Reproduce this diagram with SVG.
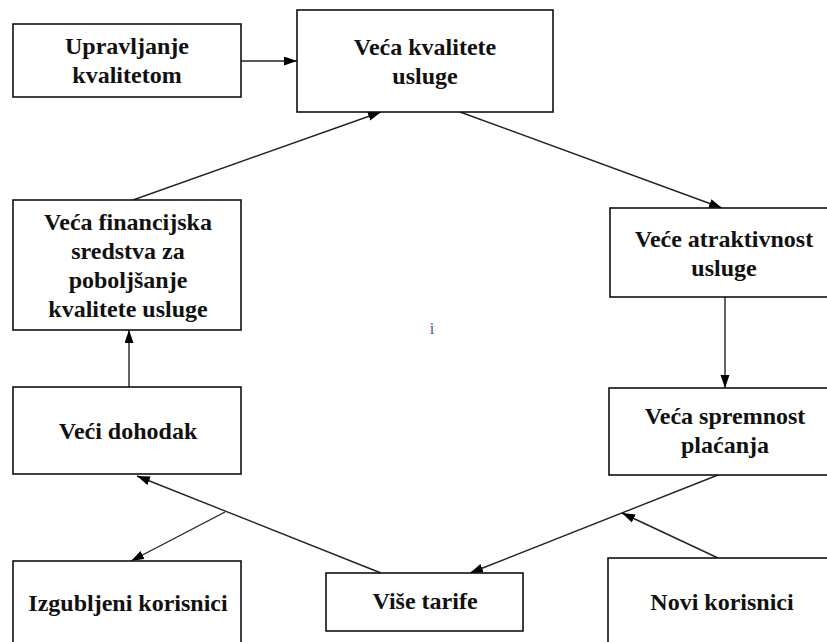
<svg xmlns="http://www.w3.org/2000/svg" width="827" height="642" viewBox="0 0 827 642">
<style>
.box{fill:#fff;stroke:#111;stroke-width:1.6}
.t{font-family:"Liberation Serif","Times New Roman",serif;font-weight:bold;font-size:24px;fill:#111;text-anchor:middle}
.c{fill:none;stroke:#222;stroke-width:1.4;marker-end:url(#ah)}
</style>
<defs>
<marker id="ah" markerUnits="userSpaceOnUse" markerWidth="14" markerHeight="10" refX="13" refY="4.5" orient="auto">
<path d="M0,0 L13,4.5 L0,9 z" fill="#000"/>
</marker>
</defs>
<rect width="827" height="642" fill="#fff"/>
<g id="connectors">
<line class="c" x1="241" y1="61" x2="297" y2="61"/>
<line class="c" x1="133" y1="200" x2="381" y2="112"/>
<line class="c" x1="460" y1="112" x2="722" y2="208"/>
<line class="c" x1="725" y1="297" x2="725" y2="388"/>
<line class="c" x1="718" y1="475" x2="470" y2="573"/>
<line class="c" x1="718" y1="558" x2="622" y2="513"/>
<line class="c" x1="381" y1="573" x2="137" y2="476"/>
<line class="c" x1="225" y1="512" x2="131" y2="561"/>
<line class="c" x1="129" y1="387" x2="129" y2="330"/>
</g>
<g id="n-upravljanje">
<rect class="box" x="13" y="24" width="228" height="73"/>
<text class="t" x="127" y="54">Upravljanje</text>
<text class="t" x="127" y="83">kvalitetom</text>
</g>
<g id="n-veca-kvalitete">
<rect class="box" x="297" y="10" width="256" height="102"/>
<text class="t" x="425" y="55">Veća kvalitete</text>
<text class="t" x="425" y="84">usluge</text>
</g>
<g id="n-atraktivnost">
<rect class="box" x="610" y="208" width="230" height="89"/>
<text class="t" x="724" y="247">Veće atraktivnost</text>
<text class="t" x="724" y="276">usluge</text>
</g>
<g id="n-spremnost">
<rect class="box" x="609" y="388" width="231" height="87"/>
<text class="t" x="725" y="424">Veća spremnost</text>
<text class="t" x="725" y="453">plaćanja</text>
</g>
<g id="n-financijska">
<rect class="box" x="13" y="200" width="228" height="130"/>
<text class="t" x="128" y="230">Veća financijska</text>
<text class="t" x="128" y="259">sredstva za</text>
<text class="t" x="128" y="288">poboljšanje</text>
<text class="t" x="128" y="317">kvalitete usluge</text>
</g>
<g id="n-dohodak">
<rect class="box" x="13" y="387" width="228" height="87"/>
<text class="t" x="128" y="439">Veći dohodak</text>
</g>
<g id="n-izgubljeni">
<rect class="box" x="13" y="561" width="228" height="90"/>
<text class="t" x="128" y="611">Izgubljeni korisnici</text>
</g>
<g id="n-tarife">
<rect class="box" x="326" y="573" width="197" height="58"/>
<text class="t" x="425" y="609">Više tarife</text>
</g>
<g id="n-novi">
<rect class="box" x="608" y="558" width="232" height="93"/>
<text class="t" x="722" y="610">Novi korisnici</text>
</g>
<text x="432" y="334" font-family="Liberation Serif, serif" font-size="16" fill="#557" text-anchor="middle">i</text>
</svg>
